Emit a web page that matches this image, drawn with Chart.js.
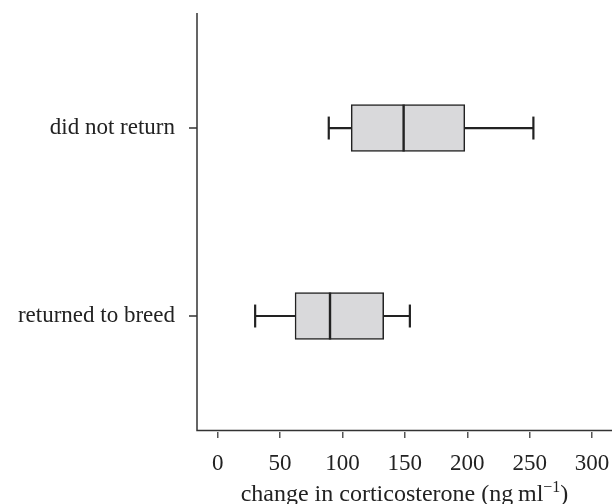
<!DOCTYPE html>
<html>
<head>
<meta charset="utf-8">
<script src="https://cdn.jsdelivr.net/npm/chart.js@4"></script>
<style>
  body { margin: 0; background: #fff; }
</style>
</head>
<body>
<canvas id="boxChart" width="612" height="504"></canvas>
<script>
// groups, bottom to top (y = 0, 1)
const categories = ['returned to breed', 'did not return'];
const whiskerLow = [30, 89];
const q1 = [62, 107];
const median = [90, 149];
const q3 = [133, 198];
const whiskerHigh = [154, 253];
const xTicks = [0, 50, 100, 150, 200, 250, 300];

const ink = '#222222';
const serif = 'Liberation Serif, Times New Roman, serif';

//Whiskers, medians, both axis lines, y tick marks and the axis title
const boxExtras = {
    id: 'boxExtras',
    afterDatasetsDraw(chart) {
        const ctx = chart.ctx;
        const x = chart.scales.x;
        const y = chart.scales.y;
        const area = chart.chartArea;
        ctx.save();
        ctx.strokeStyle = ink;
        categories.forEach((c, i) => {
            const yc = y.getPixelForValue(i);
            const capH = Math.abs(y.getPixelForValue(i + 0.061) - yc);
            const boxH = Math.abs(y.getPixelForValue(i + 0.125) - yc);
            ctx.lineWidth = 2.2;
            ctx.beginPath();
            ctx.moveTo(x.getPixelForValue(whiskerLow[i]), yc);
            ctx.lineTo(x.getPixelForValue(q1[i]), yc);
            ctx.moveTo(x.getPixelForValue(q3[i]), yc);
            ctx.lineTo(x.getPixelForValue(whiskerHigh[i]), yc);
            ctx.stroke();
            // caps
            [whiskerLow[i], whiskerHigh[i]].forEach(v => {
                const px = x.getPixelForValue(v);
                ctx.beginPath();
                ctx.moveTo(px, yc - capH);
                ctx.lineTo(px, yc + capH);
                ctx.stroke();
            });
            // median
            const mx = x.getPixelForValue(median[i]);
            ctx.lineWidth = 2.4;
            ctx.beginPath();
            ctx.moveTo(mx, yc - boxH);
            ctx.lineTo(mx, yc + boxH);
            ctx.stroke();
        });
        // axis lines; the bottom one sits a little above the tick marks
        ctx.strokeStyle = '#333333';
        ctx.lineWidth = 1.5;
        ctx.beginPath();
        ctx.moveTo(area.left, area.top);
        ctx.lineTo(area.left, area.bottom - 1.5);
        ctx.moveTo(area.left - 0.75, area.bottom - 1.5);
        ctx.lineTo(chart.width, area.bottom - 1.5);
        // y tick marks touching the axis
        y.ticks.forEach(t => {
            const py = y.getPixelForValue(t.value);
            ctx.moveTo(area.left - 8, py);
            ctx.lineTo(area.left, py);
        });
        ctx.stroke();

        // axis title with superscript
        const main = 'change in corticosterone (ng\u2009ml';
        const sup = '\u22121';
        const tail = ')';
        ctx.fillStyle = ink;
        ctx.textBaseline = 'alphabetic';
        ctx.font = '24px ' + serif;
        const w1 = ctx.measureText(main).width;
        const w3 = ctx.measureText(tail).width;
        ctx.font = '16px ' + serif;
        const w2 = ctx.measureText(sup).width;
        let tx = (area.left + area.right) / 2 - (w1 + w2 + w3) / 2;
        const base = 501;
        ctx.font = '24px ' + serif;
        ctx.fillText(main, tx, base);
        tx += w1;
        ctx.font = '16px ' + serif;
        ctx.fillText(sup, tx, base - 9);
        tx += w2;
        ctx.font = '24px ' + serif;
        ctx.fillText(tail, tx, base);
        ctx.restore();
    }
};

const ctx = document.getElementById('boxChart').getContext('2d');
const boxChart = new Chart(ctx, {
    type: 'bar',
    data: {
        datasets: [{
            data: categories.map((c, i) => ({ x: [q1[i], q3[i]], y: i })),
            backgroundColor: '#d9d9db',
            borderColor: ink,
            borderWidth: 1.5,
            borderSkipped: false,
            barThickness: 47
        }]
    },
    options: {
        indexAxis: 'y',
        responsive: false,
        animation: false,
        layout: { padding: { top: 13, left: 0, right: 0, bottom: 0 } },
        plugins: {
            legend: { display: false },
            tooltip: { enabled: false }
        },
        scales: {
            x: {
                type: 'linear',
                min: -16.6,
                max: 316,
                afterBuildTicks: (scale) => {
                    scale.ticks = xTicks.map(v => ({ value: v }));
                },
                afterFit: (scale) => {
                    scale.height = 72;
                    scale.paddingLeft = 0;
                    scale.paddingRight = 0;
                },
                grid: {
                    drawOnChartArea: false,
                    drawTicks: true,
                    tickLength: 6,
                    color: '#555555',
                    lineWidth: 1.5
                },
                border: { display: false },
                ticks: {
                    color: ink,
                    font: { family: serif, size: 23 },
                    padding: 12,
                    maxRotation: 0,
                    autoSkip: false
                }
            },
            y: {
                type: 'linear',
                min: -0.617,
                max: 1.612,
                offset: false,
                afterBuildTicks: (scale) => {
                    scale.ticks = categories.map((c, i) => ({ value: i }));
                },
                afterFit: (scale) => {
                    scale.width = 197;
                    scale.paddingTop = 0;
                    scale.paddingBottom = 0;
                },
                grid: {
                    display: false,
                    drawTicks: false
                },
                border: { display: false },
                ticks: {
                    color: ink,
                    font: { family: serif, size: 23 },
                    padding: 22,
                    callback: (value) => categories[value] || ''
                }
            }
        }
    },
    plugins: [boxExtras]
});
</script>
</body>
</html>
